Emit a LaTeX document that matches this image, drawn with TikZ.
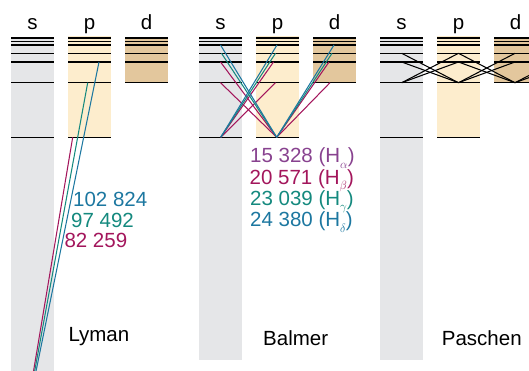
\documentclass[tikz,border=0pt]{standalone}
\usepackage{fontspec}
\setmainfont{Liberation Sans}
\definecolor{sgray}{HTML}{E5E6E8}
\definecolor{pcream}{HTML}{FDEDCD}
\definecolor{dtan}{HTML}{E3C79D}
\definecolor{crim}{HTML}{A3165C}
\definecolor{teal2}{HTML}{14897E}
\definecolor{blue2}{HTML}{1C77A0}
\definecolor{purp}{HTML}{88428F}
\newcommand\hsub[1]{\raisebox{-5.5pt}{\fontsize{13}{13}\selectfont$#1$}}
\begin{document}
\begin{tikzpicture}[x=1pt,y=-1pt,
  lvl/.style={line width=1.2pt,black},
  toplvl/.style={line width=2.2pt,black},
  tr/.style={line width=1.05pt},
  lab/.style={font=\fontsize{20.5}{22}\selectfont,inner sep=0pt}]
\useasboundingbox (0,0) rectangle (529,371);
\begin{scope}
\clip (0,0) rectangle (529,371);
\foreach \ox/\sb in {0/371,188/360,369/360}{
 \begin{scope}[xshift=\ox pt]
  \fill[sgray] (11,37) rectangle (54,\sb);
  \fill[pcream] (68.3,36) rectangle (111,137.8);
  \fill[dtan] (125,37) rectangle (168,83.3);
  \foreach \xa in {11,68.3,125}{
    \draw[toplvl] (\xa,38.3) -- ++(43,0);
    \draw[line width=1pt] (\xa,41.2) -- ++(43,0);
    \foreach \yy in {45,53.3,62,82.7}{\draw[lvl] (\xa,\yy) -- ++(43,0);}
  }
  \foreach \xa in {11,68.3}{\draw[lvl] (\xa,137.3) -- ++(43,0);}
 \end{scope}
}
% Lyman
\coordinate (L1s) at (22,440);
\coordinate (L2p) at (72.7,137.3);
\coordinate (L3p) at (87.7,82.7);
\coordinate (L4p) at (99,62);
\draw[tr,crim] (L1s) -- (L2p);
\draw[tr,teal2] (L1s) -- (L3p);
\draw[tr,blue2] (L1s) -- (L4p);
% Balmer
\coordinate (B2s) at (220.7,137.3);
\coordinate (B2p) at (276.7,137.3);
\coordinate (B3s) at (220.5,82.7);
\coordinate (B4s) at (220.5,62);
\coordinate (B5s) at (221.5,53.3);
\coordinate (B6s) at (220.5,45);
\coordinate (B3p) at (275.5,82.7);
\coordinate (B4p) at (273.5,62);
\coordinate (B5p) at (275.5,53.3);
\coordinate (B6p) at (277,45);
\coordinate (B3d) at (330,82.7);
\coordinate (B4d) at (329,62);
\coordinate (B5d) at (332,53.3);
\coordinate (B6d) at (334,45);
\foreach \n/\c in {3/crim,4/crim,5/teal2,6/blue2}{
  \draw[tr,\c] (B2s) -- (B\n p);
  \draw[tr,\c] (B2p) -- (B\n s);
  \draw[tr,\c] (B2p) -- (B\n d);
}
% Paschen
\coordinate (P3s) at (401.7,82.7);
\coordinate (P4s) at (401.7,62);
\coordinate (P5s) at (401.7,53.3);
\coordinate (P3p) at (458.5,82.7);
\coordinate (P4p) at (458.5,62);
\coordinate (P5p) at (458.5,53.3);
\coordinate (P3d) at (515,82.7);
\coordinate (P4d) at (515,62);
\coordinate (P5d) at (515,53.3);
\coordinate (P4f) at (572,62);
\coordinate (P5f) at (572,53.3);
\foreach \n in {4,5}{
  \draw[tr,black] (P3s) -- (P\n p);
  \draw[tr,black] (P3p) -- (P\n s);
  \draw[tr,black] (P3p) -- (P\n d);
  \draw[tr,black] (P3d) -- (P\n p);
  \draw[tr,black] (P3d) -- (P\n f);
}
\end{scope}
% orbital letters
\foreach \ox/\nm in {0/L,188/B,369/P}{
  \node[lab,anchor=base] (\nm-s) at (32.5+\ox,29.5) {s};
  \node[lab,anchor=base] (\nm-p) at (89.5+\ox,29.5) {p};
  \node[lab,anchor=base] (\nm-d) at (146.5+\ox,29.5) {d};
}
% Lyman labels
\node[lab,anchor=base west,text=blue2] (ly3) at (73,206.7) {102 824};
\node[lab,anchor=base west,text=teal2] (ly2) at (71,227.3) {97 492};
\node[lab,anchor=base west,text=crim] (ly1) at (64.3,247.7) {82 259};
% Balmer labels
\node[lab,anchor=base west,text=purp] (ba) at (250,162.7) {15 328 (H\hsub{\alpha})};
\node[lab,anchor=base west,text=crim] (bb) at (249.5,184.3) {20 571 (H\hsub{\beta})};
\node[lab,anchor=base west,text=teal2] (bg) at (250,205.5) {23 039 (H\hsub{\gamma})};
\node[lab,anchor=base west,text=blue2] (bd) at (250,226.7) {24 380 (H\hsub{\delta})};
% series names
\node[lab,anchor=base west] (lyman) at (68.3,341) {Lyman};
\node[lab,anchor=base west] (balmer) at (263,345) {Balmer};
\node[lab,anchor=base west] (paschen) at (441.7,345) {Paschen};
\end{tikzpicture}
\end{document}
